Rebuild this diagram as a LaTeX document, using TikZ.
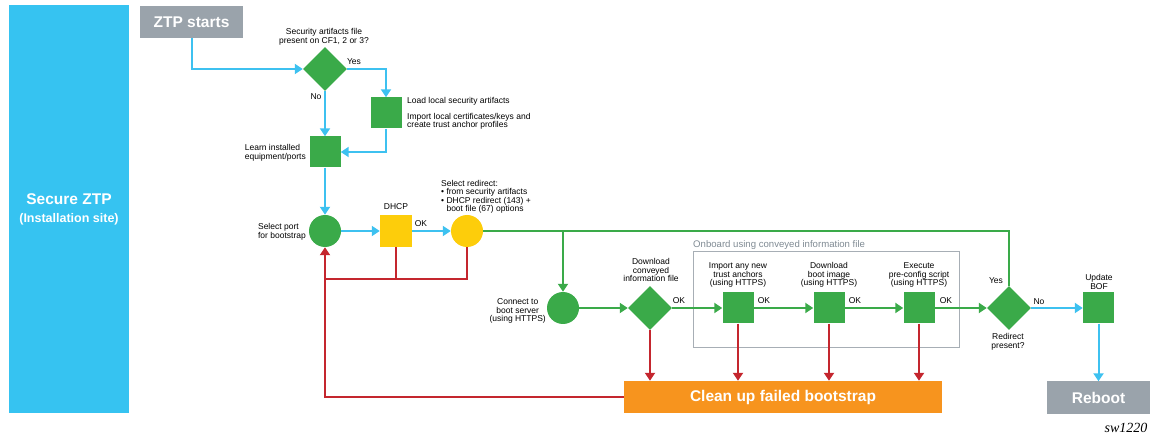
\documentclass[tikz,border=0pt]{standalone}
\usepackage{fontspec}
\setmainfont{Liberation Sans}
\newfontfamily\serifit{Liberation Serif}
\usetikzlibrary{shapes.geometric,arrows.meta}
\definecolor{zpanel}{HTML}{36C3F1}
\definecolor{zblue}{HTML}{3DC1F0}
\definecolor{zgreen}{HTML}{3AAA49}
\definecolor{zyellow}{HTML}{FDCD0B}
\definecolor{zred}{HTML}{C4262E}
\definecolor{zorange}{HTML}{F7941E}
\definecolor{zgray}{HTML}{9AA3AB}
\definecolor{zframe}{HTML}{A7AEB5}
\definecolor{zframetext}{HTML}{7F8A93}
\begin{document}
\begin{tikzpicture}[x=1pt,y=-1pt,
  lbl/.style={font=\fontsize{8.5}{8.4}\selectfont, inner sep=0pt, text=black},
  bigtxt/.style={font=\fontsize{15.5}{17}\selectfont\bfseries, text=white},
  sq/.style={rectangle, fill=zgreen, minimum size=31pt, inner sep=0pt},
  ysq/.style={rectangle, fill=zyellow, minimum size=32pt, inner sep=0pt},
  gcirc/.style={circle, fill=zgreen, minimum size=32pt, inner sep=0pt},
  ycirc/.style={circle, fill=zyellow, minimum size=32pt, inner sep=0pt},
  dia/.style={diamond, fill=zgreen, minimum width=44pt, minimum height=44pt, inner sep=0pt},
  graybox/.style={rectangle, fill=zgray, minimum width=103pt, minimum height=32pt, inner sep=0pt, bigtxt},
  tipa/.style={-{Triangle[length=8pt,width=10pt]}},
  bl/.style={draw=zblue, line width=2pt},
  gl/.style={draw=zgreen, line width=2pt},
  rl/.style={draw=zred, line width=2pt},
]
\useasboundingbox (0,0) rectangle (1151,435);

% left panel
\node[rectangle, fill=zpanel, minimum width=120pt, minimum height=408pt, inner sep=0pt, text=white, align=center] (panel) at (69,209)
  {\fontsize{15.5}{17}\selectfont\bfseries Secure ZTP\\[6pt]\fontsize{12.5}{15}\selectfont\bfseries (Installation site)};

% onboard frame
\draw[draw=zframe, line width=1pt] (693,252) rectangle (959,348);
\node[font=\fontsize{9.6}{10}\selectfont, text=zframetext, anchor=base west, inner sep=0pt] (onb) at (693,248) {Onboard using conveyed information file};

% nodes
\node[graybox] (ztp) at (191.5,22) {ZTP starts};
\node[dia] (d1) at (325,69) {};
\node[sq] (load) at (386,113) {};
\node[sq] (learn) at (325,152) {};
\node[gcirc] (port) at (325,231) {};
\node[ysq] (dhcp) at (396,231) {};
\node[ycirc] (redir) at (467,231) {};
\node[gcirc] (conn) at (563,308) {};
\node[dia] (d2) at (650,308) {};
\node[sq] (sqa) at (738,308) {};
\node[sq] (sqb) at (829,308) {};
\node[sq] (sqc) at (919,308) {};
\node[dia] (d3) at (1009,308) {};
\node[sq] (bof) at (1098.5,308) {};
\node[graybox] (reboot) at (1098.5,397.5) {Reboot};
\node[rectangle, fill=zorange, minimum width=318pt, minimum height=32pt, inner sep=0pt, bigtxt] (clean) at (783,397) {Clean up failed bootstrap};
\coordinate (redbus) at (325,279);
\coordinate (gj) at (563,231);

% labels
\node[lbl, align=center] (t1) at (324,37) {Security artifacts file\\[0.6pt]present on CF1, 2 or 3?};
\node[lbl] (yes1) at (354,62) {Yes};
\node[lbl] (no1) at (316,97) {No};
\node[lbl, anchor=north west, align=left] (t2) at (407,97) {Load local security artifacts\\[7.5pt]Import local certificates/keys and\\create trust anchor profiles};
\node[lbl, anchor=east, align=left] (t3) at (306,153) {Learn installed\\equipment/ports};
\node[lbl, anchor=east, align=left] (t4) at (306,232) {Select port\\for bootstrap};
\node[lbl] (t5) at (396,207) {DHCP};
\node[lbl] (ok1) at (421,224) {OK};
\node[lbl, anchor=north west, align=left] (t6) at (441,180) {Select redirect:\\\textbullet\ from security artifacts\\\textbullet\ DHCP redirect (143) +\\\phantom{\textbullet\ }boot file (67) options};
\node[lbl, anchor=east, align=center] (t7) at (546,311) {Connect to\\boot server\\(using HTTPS)};
\node[lbl, align=center] (t8) at (651,270) {Download\\conveyed\\information file};
\node[lbl] (ok2) at (679,301) {OK};
\node[lbl, align=center] (t9) at (738,275) {Import any new\\trust anchors\\(using HTTPS)};
\node[lbl] (ok3) at (764,301) {OK};
\node[lbl, align=center] (t10) at (829,275) {Download\\boot image\\(using HTTPS)};
\node[lbl] (ok4) at (855,301) {OK};
\node[lbl, align=center] (t11) at (919,275) {Execute\\pre-config script\\(using HTTPS)};
\node[lbl] (ok5) at (946,301) {OK};
\node[lbl] (yes2) at (996,281) {Yes};
\node[lbl] (no2) at (1039,302) {No};
\node[lbl, align=center] (t12) at (1008,342) {Redirect\\present?};
\node[lbl, align=center] (t13) at (1099,282) {Update\\BOF};
\node[font=\serifit\itshape\fontsize{14}{14}\selectfont, inner sep=0pt] (sw) at (1126,428) {sw1220};

% blue connectors
\draw[bl, tipa] (ztp.south) |- (d1.west);
\draw[bl, tipa] (d1.east) -| (load.north);
\draw[bl, tipa] (d1.south) -- (learn.north);
\draw[bl, tipa] (load.south) |- (learn.east);
\draw[bl, tipa] (learn.south) -- (port.north);
\draw[bl, tipa] (port.east) -- (dhcp.west);
\draw[bl, tipa] (dhcp.east) -- (redir.west);
\draw[bl, tipa] (d3.east) -- (bof.west);
\draw[bl, tipa] (bof.south) -- (reboot.north);

% green connectors
\draw[gl] (redir.east) -- (gj);
\draw[gl] (d3.north) |- (gj);
\draw[gl, tipa] (gj) -- (conn.north);
\draw[gl, tipa] (conn.east) -- (d2.west);
\draw[gl, tipa] (d2.east) -- (sqa.west);
\draw[gl, tipa] (sqa.east) -- (sqb.west);
\draw[gl, tipa] (sqb.east) -- (sqc.west);
\draw[gl, tipa] (sqc.east) -- (d3.west);

% red connectors
\draw[rl] (redir.south) |- (redbus);
\draw[rl] (dhcp.south) -- (dhcp.south |- redbus);
\draw[rl, tipa] (clean.west) -| (port.south);
\draw[rl, tipa] (d2.south) -- (d2.south |- clean.north);
\draw[rl, tipa] (sqa.south) -- (sqa.south |- clean.north);
\draw[rl, tipa] (sqb.south) -- (sqb.south |- clean.north);
\draw[rl, tipa] (sqc.south) -- (sqc.south |- clean.north);
\end{tikzpicture}
\end{document}
